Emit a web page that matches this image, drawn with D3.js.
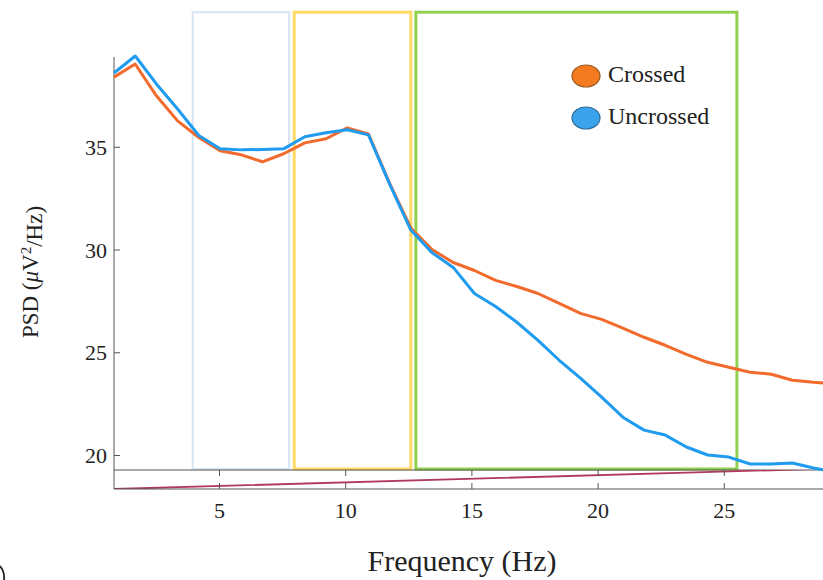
<!DOCTYPE html>
<html>
<head>
<meta charset="utf-8">
<script src="https://cdn.jsdelivr.net/npm/d3@7"></script>
<style>
  html, body { margin: 0; padding: 0; background: #fff; }
  svg { display: block; }
  text { font-family: "Liberation Serif", "Times New Roman", serif; fill: #222; }
</style>
</head>
<body>
<svg id="chart" width="823" height="580"></svg>
<script>
// Frequency bins (Hz)
const freqs = [0.84, 1.68, 2.52, 3.36, 4.20, 5.04, 5.88, 6.72, 7.56, 8.40,
               9.24, 10.08, 10.92, 11.76, 12.60, 13.44, 14.28, 15.12, 15.96, 16.80,
               17.64, 18.48, 19.32, 20.16, 21.00, 21.84, 22.68, 23.52, 24.36, 25.20,
               26.04, 26.88, 27.72, 28.56, 29.40];

// Power spectral density, crossed condition (µV²/Hz)
const crossed = [38.39, 39.03, 37.48, 36.26, 35.45, 34.81, 34.61, 34.27, 34.66, 35.19,
                 35.39, 35.92, 35.63, 33.22, 31.05, 30.00, 29.37, 28.98, 28.50, 28.20,
                 27.86, 27.38, 26.89, 26.60, 26.17, 25.73, 25.34, 24.90, 24.51, 24.27,
                 24.03, 23.93, 23.64, 23.54, 23.47];

// Power spectral density, uncrossed condition (µV²/Hz)
const uncrossed = [38.59, 39.42, 38.06, 36.84, 35.55, 34.90, 34.85, 34.87, 34.90, 35.49,
                   35.68, 35.83, 35.58, 33.18, 30.95, 29.85, 29.13, 27.86, 27.23, 26.46,
                   25.58, 24.61, 23.74, 22.82, 21.84, 21.21, 20.97, 20.39, 20.00, 19.90,
                   19.56, 19.56, 19.61, 19.37, 19.17];

const seriesNames = ["Crossed", "Uncrossed"];
const seriesColors = ["#f26a2c", "#1f9bef"];
const legendFill = ["#f47a1f", "#3aa3ec"];
const legendStroke = ["#9a5a22", "#2f6b96"];

// Frequency bands outlined on the plot: [low Hz, high Hz]
const bandNames = ["theta", "alpha", "beta"];
const bandLow = [3.96, 7.98, 12.80];
const bandHigh = [7.78, 12.60, 25.52];
const bandColors = ["#d9e6f3", "#ffd966", "#92d050"];
const bandWidths = [2.2, 3, 3];
const bandTop = 41.55;

const yTicks = [20, 25, 30, 35];
const xTicks = [5, 10, 15, 20, 25];

// Reference trace in the lower strip (strip units 0..1)
const traceF = [0.84, 27.2, 28.93];
const traceV = [0, 1, 1.07];

const serif = "'Liberation Serif', 'Times New Roman', serif";
const svg = d3.select("#chart");

const xDomain = [0.84, 28.93];
const yDomain = [19.27, 39.37];

const x = d3.scaleLinear().domain(xDomain).range([114, 823]);
const y = d3.scaleLinear().domain(yDomain).range([470, 57]);
const yStrip = d3.scaleLinear().domain([0, 1]).range([489, 470]);

const axisColor = "#555";

// --- band outlines ---
svg.append("g").selectAll("rect")
  .data(bandNames.map((n, i) => ({ n, lo: bandLow[i], hi: bandHigh[i], c: bandColors[i], w: bandWidths[i] })))
  .join("rect")
  .attr("x", d => x(d.lo))
  .attr("y", y(bandTop))
  .attr("width", d => x(d.hi) - x(d.lo))
  .attr("height", d => y(yDomain[0]) - y(bandTop) - 1)
  .attr("fill", "none")
  .attr("stroke", d => d.c)
  .attr("stroke-width", d => d.w);

// --- main y axis (ticks point inward) ---
const yAxis = d3.axisRight(y).tickValues(yTicks).tickSize(6).tickFormat(d3.format("d"));
const gy = svg.append("g").attr("transform", `translate(${x(xDomain[0])},0)`).call(yAxis);
gy.select(".domain").attr("stroke", axisColor).attr("d", `M0,${y(yDomain[1])}V${y(yDomain[0])}`);
gy.selectAll(".tick line").attr("stroke", axisColor);
gy.selectAll(".tick text")
  .attr("x", -7)
  .attr("dy", "0.34em")
  .attr("text-anchor", "end")
  .style("font-size", "22px")
  .style("font-family", serif)
  .attr("fill", "#222");

// --- main plot bottom edge ---
svg.append("line")
  .attr("x1", x(xDomain[0])).attr("x2", x(xDomain[1]))
  .attr("y1", y(yDomain[0])).attr("y2", y(yDomain[0]))
  .attr("stroke", axisColor).attr("stroke-width", 1);

// --- lower strip with x axis ---
svg.append("clipPath").attr("id", "stripClip")
  .append("rect")
  .attr("x", x(xDomain[0])).attr("y", yStrip(1))
  .attr("width", x(xDomain[1]) - x(xDomain[0]))
  .attr("height", yStrip(0) - yStrip(1));

svg.append("path")
  .datum(traceF.map((f, i) => [f, traceV[i]]))
  .attr("clip-path", "url(#stripClip)")
  .attr("fill", "none")
  .attr("stroke", "#b13a5c")
  .attr("stroke-width", 1.8)
  .attr("d", d3.line().x(d => x(d[0])).y(d => yStrip(d[1])));

svg.append("line")
  .attr("x1", x(xDomain[0])).attr("x2", x(xDomain[0]))
  .attr("y1", yStrip(1)).attr("y2", yStrip(0))
  .attr("stroke", axisColor);

const xAxis = d3.axisTop(x).tickValues(xTicks).tickSize(6).tickFormat(d3.format("d"));
const gx = svg.append("g").attr("transform", `translate(0,${yStrip(0)})`).call(xAxis);
gx.select(".domain").attr("stroke", axisColor).attr("d", `M${x(xDomain[0])},0H${x(xDomain[1])}`);
gx.selectAll(".tick line").attr("stroke", axisColor);
gx.selectAll(".tick text")
  .attr("y", 29)
  .attr("dy", 0)
  .style("font-size", "22px")
  .style("font-family", serif)
  .attr("fill", "#222");

// ticks hanging from the strip's top edge
const xAxisTop = d3.axisBottom(x).tickValues(xTicks).tickSize(6).tickFormat("");
const gxt = svg.append("g").attr("transform", `translate(0,${yStrip(1)})`).call(xAxisTop);
gxt.select(".domain").remove();
gxt.selectAll(".tick line").attr("stroke", axisColor);

// --- spectra ---
const line = d3.line().x(d => x(d[0])).y(d => y(d[1]));
[crossed, uncrossed].forEach((vals, i) => {
  svg.append("path")
    .datum(freqs.map((f, j) => [f, vals[j]]))
    .attr("fill", "none")
    .attr("stroke", seriesColors[i])
    .attr("stroke-width", 3)
    .attr("stroke-linejoin", "round")
    .attr("d", line);
});

// --- legend ---
const legend = svg.append("g");
seriesNames.forEach((name, i) => {
  const cy = 76 + i * 42;
  legend.append("ellipse")
    .attr("cx", 586).attr("cy", cy)
    .attr("rx", 14).attr("ry", 11)
    .attr("fill", legendFill[i])
    .attr("stroke", legendStroke[i])
    .attr("stroke-width", 1.2);
  legend.append("text")
    .attr("x", 608).attr("y", cy + 6)
    .style("font-family", serif)
    .style("font-size", "24px")
    .attr("fill", "#1a1a1a")
    .text(name);
});

// --- axis titles ---
svg.append("text")
  .attr("x", 462).attr("y", 571)
  .attr("text-anchor", "middle")
  .style("font-family", serif)
  .style("font-size", "30px")
  .text("Frequency (Hz)");

const yt = svg.append("text")
  .attr("transform", "translate(38,272) rotate(-90)")
  .attr("text-anchor", "middle")
  .style("font-family", serif)
  .style("font-size", "23px");
yt.append("tspan").text("PSD (");
yt.append("tspan").style("font-style", "italic").text("\u03bc");
yt.append("tspan").text("V");
yt.append("tspan").attr("dy", "-0.45em").style("font-size", "15px").text("2");
yt.append("tspan").attr("dy", "0.45em").text("/Hz)");

// edge of the panel letter's closing bracket at the lower-left corner
svg.append("path")
  .attr("d", "M0,566 Q5,572 4,580")
  .attr("fill", "none")
  .attr("stroke", "#222")
  .attr("stroke-width", 1.8);
</script>
</body>
</html>
